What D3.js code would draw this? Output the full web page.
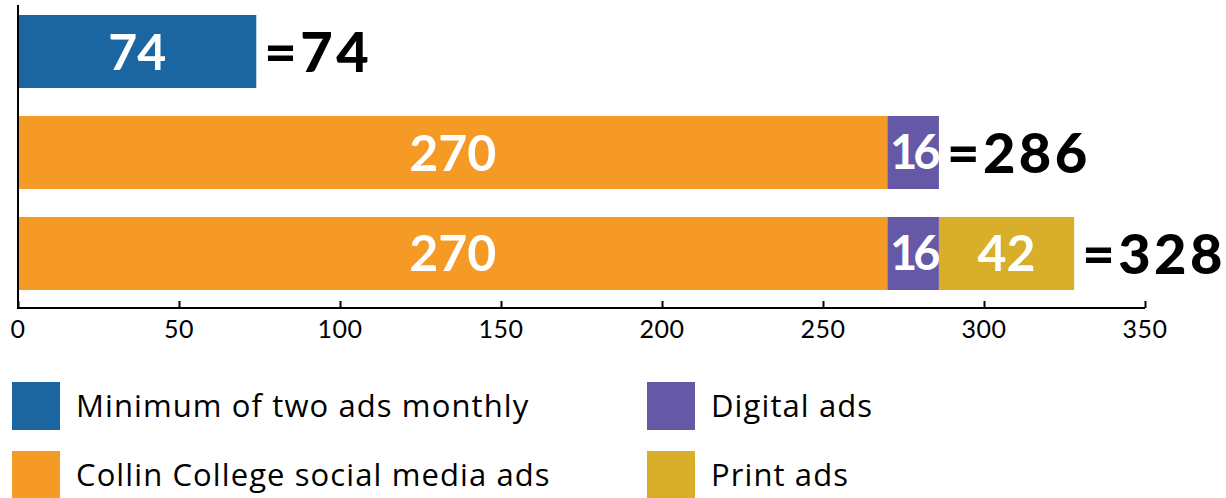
<!DOCTYPE html>
<html>
<head>
<meta charset="utf-8">
<script src="https://cdn.jsdelivr.net/npm/d3@7"></script>
<style>
  html, body { margin: 0; padding: 0; background: #fff; }
  svg { display: block; }
</style>
</head>
<body>
<svg id="chart" width="1226" height="498"></svg>
<script>
// ---- data ----
const categories = ["Minimum", "Social + digital", "Social + digital + print"];
const seriesNames = ["Minimum of two ads monthly", "Collin College social media ads", "Digital ads", "Print ads"];
const minimumAds = [74, 0, 0];
const socialAds = [0, 270, 270];
const digitalAds = [0, 16, 16];
const printAds = [0, 0, 42];
const seriesColors = ["#1b66a1", "#f59b25", "#6559a7", "#d9ae2a"];
const xTicks = [0, 50, 100, 150, 200, 250, 300, 350];

const keys = ["min", "social", "digital", "print"];
const table = categories.map((c, i) => ({
  cat: c, min: minimumAds[i], social: socialAds[i], digital: digitalAds[i], print: printAds[i]
}));

const LATO = "Lato, 'Open Sans', sans-serif";
const OPEN = "'Open Sans', Lato, sans-serif";

const svg = d3.select("#chart");
const x = d3.scaleLinear().domain([0, 350]).range([18, 1145]);
const y = d3.scaleBand().domain(categories).range([15, 290]).paddingInner(0.277).paddingOuter(0);
const color = d3.scaleOrdinal().domain(keys).range(seriesColors);

const stacked = d3.stack().keys(keys)(table);

// bars
const layers = svg.append("g").selectAll("g").data(stacked).join("g")
  .attr("fill", d => color(d.key));
layers.selectAll("rect").data(d => d.filter(s => s[1] - s[0] > 0)).join("rect")
  .attr("x", d => x(d[0]))
  .attr("y", d => y(d.data.cat))
  .attr("width", d => x(d[1]) - x(d[0]))
  .attr("height", y.bandwidth());

// segment labels
layers.selectAll("text").data(d => d.filter(s => s[1] - s[0] > 0)).join("text")
  .attr("x", d => (x(d[0]) + x(d[1])) / 2)
  .attr("y", d => y(d.data.cat) + y.bandwidth() / 2)
  .attr("dy", "0.36em")
  .attr("text-anchor", "middle")
  .attr("fill", "#fff")
  .style("font-family", LATO)
  .attr("font-weight", 700)
  .attr("font-size", d => (d[1] - d[0]) < 20 ? 47 : 50)
  .attr("letter-spacing", d => (d[1] - d[0]) < 20 ? -4 : 0)
  .text(d => d[1] - d[0]);

// totals
svg.append("g").selectAll("text").data(table).join("text")
  .attr("x", d => x(d.min + d.social + d.digital + d.print) + 8)
  .attr("y", d => y(d.cat) + y.bandwidth() / 2)
  .attr("dy", "0.36em")
  .attr("fill", "#000")
  .style("font-family", LATO)
  .attr("font-weight", 900)
  .attr("font-size", 56)
  .attr("letter-spacing", 3.5)
  .text(d => "=" + (d.min + d.social + d.digital + d.print));

// x axis
const xAxis = svg.append("g")
  .attr("transform", "translate(0,308)")
  .call(d3.axisTop(x).tickValues(xTicks).tickSize(7).tickFormat(""));
xAxis.select(".domain").attr("d", `M${x(0)},0H${x(350)}`).attr("stroke", "#000").attr("stroke-width", 2);
xAxis.selectAll(".tick line").attr("stroke", "#000").attr("stroke-width", 2);

svg.append("g").selectAll("text").data(xTicks).join("text")
  .attr("x", d => x(d))
  .attr("y", 338)
  .attr("text-anchor", "middle")
  .style("font-family", LATO)
  .attr("font-size", 25)
  .attr("letter-spacing", 0.5)
  .attr("fill", "#000")
  .text(d => d);

// y axis line
svg.append("line")
  .attr("x1", x(0)).attr("x2", x(0))
  .attr("y1", 5).attr("y2", 309)
  .attr("stroke", "#000").attr("stroke-width", 2);

// legend
const legendPos = [[12, 382], [12, 451], [647, 382], [647, 451]];
const legend = svg.append("g").selectAll("g").data(seriesNames).join("g")
  .attr("transform", (d, i) => `translate(${legendPos[i][0]},${legendPos[i][1]})`);
legend.append("rect")
  .attr("width", 48).attr("height", 48)
  .attr("fill", (d, i) => seriesColors[i]);
legend.append("text")
  .attr("x", 64)
  .attr("y", 35)
  .style("font-family", OPEN)
  .attr("font-size", 31)
  .attr("letter-spacing", 1.1)
  .attr("fill", "#000")
  .text(d => d);
</script>
</body>
</html>
